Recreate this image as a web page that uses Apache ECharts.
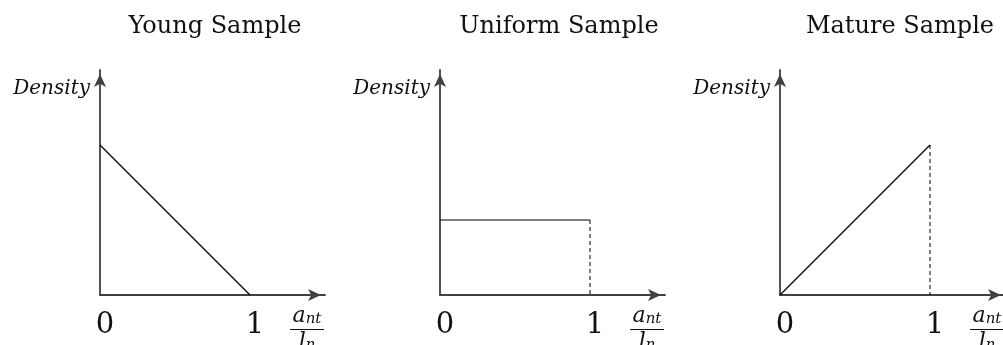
<!DOCTYPE html>
<html>
<head>
<meta charset="utf-8">
<title>Sample age densities</title>
<script src="https://cdn.jsdelivr.net/npm/echarts@6/dist/echarts.min.js"></script>
<style>
  html, body { margin: 0; padding: 0; background: #fff; }
  #chart { width: 1003px; height: 345px; }
</style>
</head>
<body>
<div id="chart"></div>
<script>
// Panel headings
const panelTitles = ['Young Sample', 'Uniform Sample', 'Mature Sample'];

// Density curves on the normalised age a_nt / l_n
const youngDensity = [[0, 2], [1, 0]];
const uniformDensity = [[0, 1], [1, 1]];
const matureDensity = [[0, 0], [1, 2]];

// Dashed drop lines closing each support at 1
const youngDrop = [];
const uniformDrop = [[1, 1], [1, 0]];
const matureDrop = [[1, 2], [1, 0]];

// Horizontal axis ticks
const xTickValues = [0, 1];
const xTickLabels = ['0', '1'];

const curves = [youngDensity, uniformDensity, matureDensity];
const drops = [youngDrop, uniformDrop, matureDrop];

const gridLefts = [100, 440, 780];
const titleCenters = [215, 559, 900];

const serif = 'DejaVu Serif';
const axisColor = '#404040';

const chart = echarts.init(document.getElementById('chart'), null, { renderer: 'canvas' });

// fixed plot boxes; labels are allowed to run past the canvas edge
const grids = gridLefts.map(l => ({
  left: l, top: 70, width: 225, height: 225,
  containLabel: false,
  outerBoundsMode: 'none'
}));

const titles = panelTitles.map((t, i) => ({
  text: t,
  left: titleCenters[i],
  top: 15,
  textAlign: 'center',
  padding: 0,
  textStyle: { fontFamily: serif, fontWeight: 'normal', fontSize: 24, color: '#111' }
}));

const arrowLine = {
  show: true,
  symbol: ['none', 'arrow'],
  symbolSize: [9, 13],
  symbolOffset: [0, -4],
  lineStyle: { color: axisColor, width: 1.8 }
};

const xAxes = gridLefts.map((_, i) => ({
  type: 'value',
  gridIndex: i,
  min: 0,
  max: 1.5,
  interval: 1,
  axisLine: arrowLine,
  axisTick: { show: false },
  splitLine: { show: false },
  axisLabel: {
    customValues: xTickValues,
    formatter: v => xTickLabels[xTickValues.indexOf(v)] || '',
    fontFamily: serif,
    fontSize: 29,
    color: '#111',
    margin: 16,
    padding: [0, 0, 0, 10]
  },
  // the fraction a_nt / l_n written as stacked rich text
  name: '{n|a}{s|nt}\n{bar|}\n{n|l}{s|n}',
  nameLocation: 'end',
  nameGap: -18,
  nameTextStyle: {
    align: 'center',
    verticalAlign: 'top',
    padding: [11, 0, 0, 0],
    rich: {
      n: { fontFamily: serif, fontStyle: 'italic', fontSize: 22, lineHeight: 21, color: '#111' },
      s: { fontFamily: serif, fontStyle: 'italic', fontSize: 15, lineHeight: 15, verticalAlign: 'bottom', color: '#111' },
      bar: { width: 34, height: 1.2, lineHeight: 5, backgroundColor: '#111' }
    }
  }
}));

const yAxes = gridLefts.map((_, i) => ({
  type: 'value',
  gridIndex: i,
  min: 0,
  max: 3,
  interval: 1,
  axisLine: arrowLine,
  axisTick: { show: false },
  splitLine: { show: false },
  axisLabel: { show: false },
  name: 'Density',
  nameLocation: 'end',
  nameGap: -9,
  nameTextStyle: {
    fontFamily: serif,
    fontStyle: 'italic',
    fontSize: 20,
    color: '#111',
    align: 'right',
    verticalAlign: 'top',
    padding: [0, 10, 0, 0]
  }
}));

const series = [];
curves.forEach((d, i) => {
  series.push({
    type: 'line',
    xAxisIndex: i,
    yAxisIndex: i,
    data: d,
    symbol: 'none',
    silent: true,
    lineStyle: { color: '#000', width: 1.2 },
    z: 3
  });
  if (drops[i].length) {
    series.push({
      type: 'line',
      xAxisIndex: i,
      yAxisIndex: i,
      data: drops[i],
      symbol: 'none',
      silent: true,
      lineStyle: { color: '#000', width: 1, type: [4, 3] },
      z: 3
    });
  }
});

chart.setOption({
  animation: false,
  backgroundColor: '#fff',
  title: titles,
  grid: grids,
  xAxis: xAxes,
  yAxis: yAxes,
  series: series
});
</script>
</body>
</html>
